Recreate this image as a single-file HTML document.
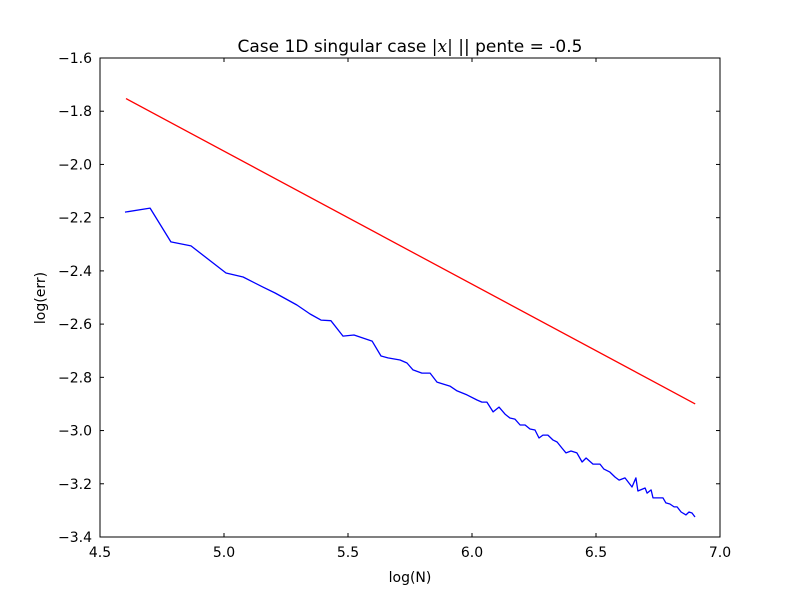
<!DOCTYPE html>
<html><head><meta charset="utf-8"><style>
body{margin:0;background:#fff}
svg text{font-family:"DejaVu Sans","Liberation Sans",sans-serif;fill:#000}
</style></head><body>
<svg id="chart" width="800" height="597" xmlns="http://www.w3.org/2000/svg">
<rect width="800" height="597" fill="#fff"/>
<g id="plot"></g>
<text x="410" y="52" font-size="17" text-anchor="middle">Case 1D singular case <tspan font-family="DejaVu Serif,serif" font-style="italic">|x|</tspan> || pente = -0.5</text>
<text x="410" y="582" font-size="14" text-anchor="middle">log(N)</text>
<text x="45" y="298" font-size="14" text-anchor="middle" transform="rotate(-90 45 298)">log(err)</text>
</svg>
<script>
const xTicks=[4.5,5.0,5.5,6.0,6.5,7.0];
const yTicks=[-1.6,-1.8,-2.0,-2.2,-2.4,-2.6,-2.8,-3.0,-3.2,-3.4];
const refX=[4.605,6.9];
const refY=[-1.7525,-2.9];
const errX=[4.601,4.702,4.786,4.867,5.008,5.077,5.157,5.206,5.294,5.347,5.391,5.431,5.480,5.524,5.597,5.633,5.661,5.710,5.738,5.762,5.798,5.831,5.859,5.883,5.911,5.940,5.980,6.020,6.040,6.060,6.085,6.109,6.133,6.153,6.173,6.194,6.214,6.234,6.254,6.270,6.286,6.306,6.327,6.343,6.363,6.379,6.399,6.423,6.444,6.460,6.488,6.516,6.532,6.556,6.577,6.593,6.617,6.645,6.661,6.669,6.698,6.706,6.722,6.730,6.750,6.770,6.782,6.798,6.815,6.827,6.843,6.863,6.875,6.887,6.899];
const errY=[-2.179,-2.164,-2.291,-2.306,-2.408,-2.423,-2.461,-2.483,-2.528,-2.562,-2.585,-2.587,-2.645,-2.641,-2.664,-2.720,-2.727,-2.735,-2.746,-2.772,-2.784,-2.784,-2.818,-2.825,-2.833,-2.851,-2.866,-2.885,-2.893,-2.893,-2.930,-2.912,-2.938,-2.953,-2.957,-2.979,-2.979,-2.994,-2.998,-3.028,-3.017,-3.017,-3.036,-3.043,-3.066,-3.084,-3.077,-3.084,-3.118,-3.103,-3.126,-3.126,-3.145,-3.156,-3.175,-3.186,-3.178,-3.212,-3.178,-3.227,-3.216,-3.235,-3.223,-3.253,-3.253,-3.253,-3.272,-3.276,-3.287,-3.287,-3.306,-3.317,-3.306,-3.310,-3.325];
const L=100,R=720,T=58,B=537;
const sx=v=>L+(v-4.5)/(7.0-4.5)*(R-L);
const sy=v=>T+(-1.6-v)/(1.8)*(B-T);
const NS="http://www.w3.org/2000/svg";
const g=document.getElementById('plot');
function mk(t,a){const e=document.createElementNS(NS,t);for(const k in a)e.setAttribute(k,a[k]);g.appendChild(e);return e;}
const pts=(xs,ys)=>xs.map((x,i)=>sx(x).toFixed(1)+','+sy(ys[i]).toFixed(1)).join(' ');
let r=mk('polyline',{points:pts(refX,refY),fill:'none',stroke:'#ff0000','stroke-width':1.3});


let b=mk('polyline',{points:pts(errX,errY),fill:'none',stroke:'#0000ff','stroke-width':1.3,'stroke-linejoin':'round'});


let fr=mk('rect',{x:L,y:T,width:R-L,height:B-T,fill:'none',stroke:'#000','stroke-width':1});


xTicks.forEach(v=>{const x=sx(v);
mk('line',{x1:x,x2:x,y1:B,y2:B-4,stroke:'#000'});mk('line',{x1:x,x2:x,y1:T,y2:T+4,stroke:'#000'});
const t=mk('text',{x:x,y:B+20,'font-size':14,'text-anchor':'middle'});t.textContent=v.toFixed(1);

});
yTicks.forEach(v=>{const y=sy(v);
mk('line',{x1:L,x2:L+4,y1:y,y2:y,stroke:'#000'});mk('line',{x1:R,x2:R-4,y1:y,y2:y,stroke:'#000'});
const t=mk('text',{x:L-8,y:y+5,'font-size':14,'text-anchor':'end'});t.textContent='\u2212'+Math.abs(v).toFixed(1);

});
</script>
</body></html>
